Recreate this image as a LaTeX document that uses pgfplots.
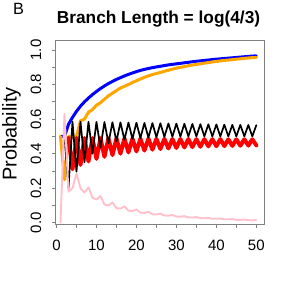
\documentclass[border=0pt]{standalone}
\usepackage{pgfplots}
\pgfplotsset{compat=1.18}
\usepackage{fontspec}
\setmainfont{Liberation Sans}
\definecolor{rorange}{RGB}{255,165,0}
\definecolor{rpink}{RGB}{255,192,203}
\definecolor{rblue}{RGB}{0,0,255}
\definecolor{rred}{RGB}{255,0,0}
\definecolor{boxgray}{RGB}{128,128,128}
\begin{document}
\begin{tikzpicture}
\useasboundingbox (0,0) rectangle (291pt,291pt);
\begin{axis}[
  at={(55.7pt,66.7pt)}, anchor=south west,
  scale only axis, width=208.6pt, height=183.6pt,
  xmin=-0.2, xmax=52, ymin=-0.009, ymax=1.054,
  xtick={0,5,...,50}, xticklabels={0,,10,,20,,30,,40,,50},
  ytick={0,0.1,0.2,0.3,0.4,0.5,0.6,0.7,0.8,0.9,1.0},
  yticklabels={0.0,,0.2,,0.4,,0.6,,0.8,,1.0},
  tick align=outside, tick pos=left, major tick length=4pt,
  tick style={boxgray, line width=0.8pt},
  axis line style={boxgray, line width=0.8pt},
  ticklabel style={font=\fontsize{15}{18}\selectfont, inner sep=0pt},
  xticklabel style={anchor=base, yshift=-22.4pt},
  yticklabel style={xshift=-10.7pt, rotate=90, anchor=base},
  every axis plot/.append style={line join=round, line cap=round},
]
\addplot[rblue, line width=3pt] coordinates {
(1,0.5)(2,0.5)(3,0.57)(4,0.61)(5,0.645)(6,0.675)(7,0.70)(8,0.722)(9,0.742)(10,0.76)
(11,0.777)(12,0.792)(13,0.806)(14,0.818)(15,0.83)(16,0.84)(17,0.85)(18,0.859)(19,0.867)(20,0.875)
(21,0.882)(22,0.888)(23,0.893)(24,0.898)(25,0.902)(26,0.906)(27,0.910)(28,0.914)(29,0.917)(30,0.92)
(31,0.923)(32,0.926)(33,0.929)(34,0.932)(35,0.935)(36,0.937)(37,0.940)(38,0.942)(39,0.945)(40,0.947)
(41,0.949)(42,0.951)(43,0.953)(44,0.955)(45,0.957)(46,0.959)(47,0.961)(48,0.963)(49,0.965)(50,0.966)
};
\addplot[rorange, line width=3pt] coordinates {
(1,0.5)(2,0.25)(3,0.5)(4,0.5)(5,0.5)(6,0.59)(7,0.60)(8,0.64)(9,0.655)(10,0.68)
(11,0.695)(12,0.715)(13,0.735)(14,0.75)(15,0.765)(16,0.78)(17,0.79)(18,0.80)(19,0.812)(20,0.822)
(21,0.832)(22,0.842)(23,0.85)(24,0.858)(25,0.864)(26,0.870)(27,0.877)(28,0.883)(29,0.889)(30,0.895)
(31,0.900)(32,0.904)(33,0.909)(34,0.913)(35,0.917)(36,0.920)(37,0.924)(38,0.927)(39,0.931)(40,0.934)
(41,0.937)(42,0.940)(43,0.942)(44,0.944)(45,0.947)(46,0.949)(47,0.952)(48,0.954)(49,0.956)(50,0.957)
};
\addplot[rred, line width=4pt] coordinates {
(3,0.49)(4,0.31)(5,0.49)(6,0.335)(7,0.49)(8,0.355)(9,0.49)(10,0.37)
(11,0.49)(12,0.382)(13,0.489)(14,0.392)(15,0.489)(16,0.40)(17,0.488)(18,0.407)(19,0.488)(20,0.413)
(21,0.487)(22,0.418)(23,0.487)(24,0.423)(25,0.486)(26,0.427)(27,0.486)(28,0.43)(29,0.485)(30,0.433)
(31,0.485)(32,0.436)(33,0.485)(34,0.438)(35,0.484)(36,0.44)(37,0.484)(38,0.442)(39,0.484)(40,0.443)
(41,0.484)(42,0.444)(43,0.483)(44,0.445)(45,0.483)(46,0.446)(47,0.483)(48,0.447)(49,0.483)(50,0.448)
};
\addplot[black, line width=1.7pt] coordinates {
(2,0.50)(3,0.20)(4,0.585)(5,0.295)(6,0.585)(7,0.35)(8,0.585)(9,0.40)(10,0.584)
(11,0.435)(12,0.583)(13,0.46)(14,0.582)(15,0.472)(16,0.581)(17,0.48)(18,0.580)(19,0.486)(20,0.579)
(21,0.49)(22,0.578)(23,0.493)(24,0.577)(25,0.495)(26,0.576)(27,0.497)(28,0.575)(29,0.498)(30,0.574)
(31,0.499)(32,0.573)(33,0.5)(34,0.572)(35,0.5)(36,0.571)(37,0.5)(38,0.570)(39,0.5)(40,0.569)
(41,0.5)(42,0.568)(43,0.5)(44,0.567)(45,0.5)(46,0.567)(47,0.5)(48,0.566)(49,0.5)(50,0.565)
};
\addplot[rpink, line width=1.9pt] coordinates {
(1,0.00)(2,0.63)(3,0.18)(4,0.20)(5,0.285)(6,0.20)(7,0.175)(8,0.205)(9,0.145)(10,0.135)
(11,0.155)(12,0.105)(13,0.10)(14,0.118)(15,0.085)(16,0.082)(17,0.095)(18,0.07)(19,0.068)(20,0.077)
(21,0.058)(22,0.057)(23,0.064)(24,0.049)(25,0.048)(26,0.053)(27,0.042)(28,0.041)(29,0.045)(30,0.036)
(31,0.035)(32,0.038)(33,0.031)(34,0.030)(35,0.033)(36,0.027)(37,0.026)(38,0.028)(39,0.023)(40,0.023)
(41,0.024)(42,0.020)(43,0.020)(44,0.021)(45,0.017)(46,0.017)(47,0.018)(48,0.015)(49,0.014)(50,0.015)
};
\end{axis}
\node[anchor=base, font=\fontsize{17.3}{20}\selectfont\bfseries] at (158.5pt,267.7pt) {Branch Length = log(4/3)};
\node[anchor=base west, inner sep=0pt, font=\fontsize{16.3}{19}\selectfont] at (13pt,276pt) {B};
\node[anchor=base, rotate=90, inner sep=0pt, font=\fontsize{20}{24}\selectfont] at (16.5pt,157pt) {Probability};
\end{tikzpicture}
\end{document}
